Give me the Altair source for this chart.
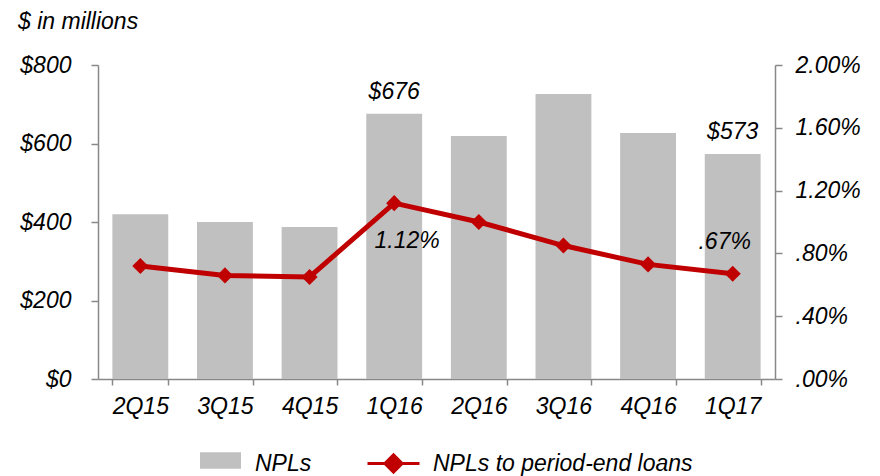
import altair as alt
import pandas as pd

quarters = ["2Q15", "3Q15", "4Q15", "1Q16", "2Q16", "3Q16", "4Q16", "1Q17"]
npls = [420, 400, 387, 676, 619, 726, 627, 573]
ratio = [0.72, 0.66, 0.65, 1.12, 1.00, 0.85, 0.73, 0.67]
bar_labels = ["", "", "", "$676", "", "", "", "$573"]
ratio_labels = ["", "", "", "1.12%", "", "", "", ".67%"]
left_ticks = [0, 200, 400, 600, 800]
right_ticks = [0, 0.4, 0.8, 1.2, 1.6, 2.0]

df = pd.DataFrame({
    "q": quarters, "npl": npls, "ratio": ratio,
    "bl": bar_labels, "rl": ratio_labels,
    "s1": "NPLs", "s2": "NPLs to period-end loans",
})

FONT = "Liberation Sans"
AX = "#888888"
RED = "#c00000"
GRAY = "#c0c0c0"
FS = 23

x = alt.X("q:N", sort=quarters, title=None,
          scale=alt.Scale(paddingInner=0.34, paddingOuter=0.17),
          axis=alt.Axis(tickBand="extent", labelAngle=0, labelFontSize=FS, labelFont=FONT,
                        labelFontStyle="italic", labelColor="#000", domainColor=AX, tickColor=AX,
                        tickSize=6, labelPadding=10, domainWidth=1.5, tickWidth=1.5))

common_axis = dict(labelFontSize=FS, labelFont=FONT, labelFontStyle="italic", labelColor="#000",
                   domainColor=AX, tickColor=AX, tickSize=7, domainWidth=1.5, tickWidth=1.5,
                   grid=False, title=None)

legend_common = dict(orient="none", title=None, labelFont=FONT, labelFontSize=FS,
                     labelFontStyle="italic", labelColor="#000", labelLimit=500)

bars = alt.Chart(df).mark_bar().encode(
    x=x,
    y=alt.Y("npl:Q", scale=alt.Scale(domain=[0, 800]),
            axis=alt.Axis(values=left_ticks, labelExpr="'$' + datum.value", labelPadding=20,
                          **common_axis)),
    fill=alt.Fill("s1:N", scale=alt.Scale(domain=["NPLs"], range=[GRAY]),
                  legend=alt.Legend(legendX=102, legendY=378,
                                    symbolType="M-1,-0.55H1V0.25H-1Z", symbolSize=1681,
                                    symbolStrokeWidth=0, labelOffset=14, **legend_common)),
)

bar_text = alt.Chart(df).mark_text(baseline="bottom", dy=-10, font=FONT, fontSize=FS,
                                   fontStyle="italic", color="#000").encode(
    x=alt.X("q:N", sort=quarters),
    y=alt.Y("npl:Q"),
    text="bl:N",
)

color = alt.Color("s2:N", scale=alt.Scale(domain=["NPLs to period-end loans"], range=[RED]),
                  legend=alt.Legend(legendX=268, legendY=371,
                                    symbolType="M-1,0H1M0,-0.33L0.33,0L0,0.33L-0.33,0Z",
                                    symbolSize=2704, symbolStrokeWidth=3,
                                    symbolFillColor=RED, symbolStrokeColor=RED,
                                    labelOffset=12, **legend_common))

line = alt.Chart(df).mark_line(strokeWidth=5).encode(
    x=alt.X("q:N", sort=quarters),
    y=alt.Y("ratio:Q", scale=alt.Scale(domain=[0, 2]),
            axis=alt.Axis(orient="right", values=right_ticks, labelPadding=13,
                          labelExpr="datum.value < 1 ? substring(format(datum.value/100, '.2%'), 1) : format(datum.value/100, '.2%')",
                          **common_axis)),
    color=color,
)

points = alt.Chart(df).mark_point(shape="diamond", filled=True, size=260, opacity=1).encode(
    x=alt.X("q:N", sort=quarters),
    y=alt.Y("ratio:Q"),
    color=color,
)

t1 = alt.Chart(df).transform_filter(alt.datum.q == "1Q16").mark_text(
    dy=38, dx=13, font=FONT, fontSize=FS, fontStyle="italic", color="#000").encode(
    x=alt.X("q:N", sort=quarters), y=alt.Y("ratio:Q"), text="rl:N")

t2 = alt.Chart(df).transform_filter(alt.datum.q == "1Q17").mark_text(
    dy=-32, dx=-8, font=FONT, fontSize=FS, fontStyle="italic", color="#000").encode(
    x=alt.X("q:N", sort=quarters), y=alt.Y("ratio:Q"), text="rl:N")

left = alt.layer(bars, bar_text)
right = alt.layer(line, points, t1, t2)

chart = alt.layer(left, right).resolve_scale(y="independent").properties(
    width=677, height=314,
    padding={"left": 90, "top": 57, "right": 97, "bottom": 97},
    autosize=alt.AutoSizeParams(type="none"),
    title=alt.TitleParams("$ in millions", anchor="start", frame="group", dx=-80, offset=20,
                          font=FONT, fontSize=FS, fontStyle="italic", fontWeight="normal",
                          color="#000"),
).configure_view(stroke=None)

chart.save("out.html", embed_options={"renderer": "svg", "actions": False})
